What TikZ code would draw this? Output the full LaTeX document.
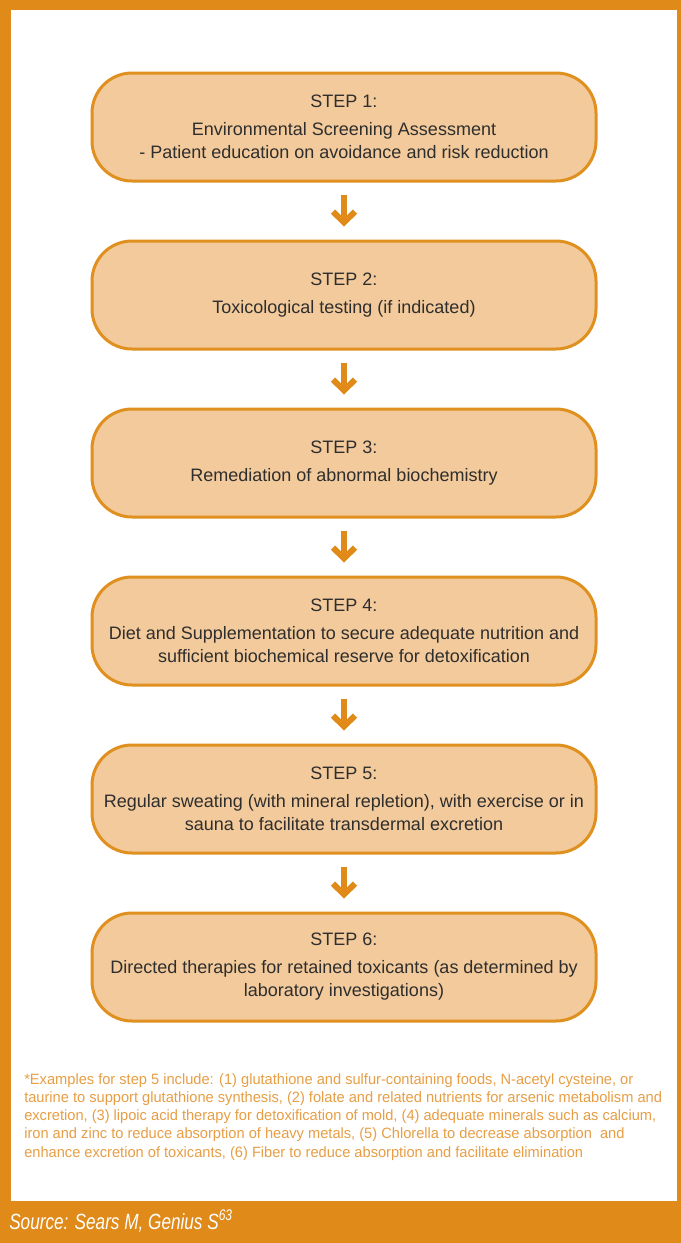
\documentclass[tikz,border=0pt]{standalone}
\usepackage{fontspec}
\setmainfont{Liberation Sans}
\newfontfamily\notefont[FakeStretch=0.98]{Liberation Sans}
\newfontfamily\srcfont[FakeStretch=0.78]{Liberation Sans}
\usetikzlibrary{arrows.meta,calc}
\definecolor{frame}{HTML}{E08A1A}
\definecolor{boxfill}{HTML}{F3CA9B}
\definecolor{boxline}{HTML}{E0901F}
\definecolor{notecol}{HTML}{E89E45}
\definecolor{txt}{HTML}{2E2E2E}
\begin{document}
\begin{tikzpicture}[x=0.75pt,y=-0.75pt,
  stepbox/.style={draw=boxline, line width=2.25pt, fill=boxfill,
    rounded corners=30pt, minimum width=378pt, minimum height=81pt,
    align=center, text=txt, inner sep=0pt,
    execute at begin node={\rule{0pt}{12.3pt}},
    font=\fontsize{13.5}{17.25}\selectfont},
  flow/.style={draw=frame, line width=4.5pt,
    -{Straight Barb[length=8pt,width=16.5pt]},
    shorten <=9.4pt, shorten >=9.75pt}]
\useasboundingbox (0,0) rectangle (681,1243);
\fill[frame] (0,0) rectangle (681,1243);
\fill[white] (11,10) rectangle (677,1201);

\node[stepbox] (s1) at (344,127) {STEP 1:\\[3.75pt]Environmental Screening Assessment\\- Patient education on avoidance and risk reduction};
\node[stepbox] (s2) at (344,295) {STEP 2:\\[3.75pt]Toxicological testing (if indicated)};
\node[stepbox] (s3) at (344,463) {STEP 3:\\[3.75pt]Remediation of abnormal biochemistry};
\node[stepbox] (s4) at (344,631) {STEP 4:\\[3.75pt]Diet and Supplementation to secure adequate nutrition and\\sufficient biochemical reserve for detoxification};
\node[stepbox] (s5) at (344,799) {STEP 5:\\[3.75pt]Regular sweating (with mineral repletion), with exercise or in\\sauna to facilitate transdermal excretion};
\node[stepbox] (s6) at (344,967) {STEP 6:\\[3.75pt]Directed therapies for retained toxicants (as determined by\\laboratory investigations)};

\draw[flow] (s1) -- (s2);
\draw[flow] (s2) -- (s3);
\draw[flow] (s3) -- (s4);
\draw[flow] (s4) -- (s5);
\draw[flow] (s5) -- (s6);

\node[anchor=north west, inner sep=0pt, align=left, text=notecol,
  font=\notefont\fontsize{11.2}{13.7}\selectfont] (note) at (24,1073)
  {*Examples for step 5 include: (1) glutathione and sulfur-containing foods, N-acetyl cysteine, or\\
   taurine to support glutathione synthesis, (2) folate and related nutrients for arsenic metabolism and\\
   excretion, (3) lipoic acid therapy for detoxification of mold, (4) adequate minerals such as calcium,\\
   iron and zinc to reduce absorption of heavy metals, (5) Chlorella to decrease absorption\ \ and\\
   enhance excretion of toxicants, (6) Fiber to reduce absorption and facilitate elimination};

\node[anchor=base west, inner sep=0pt, text=white,
  font=\srcfont\itshape\fontsize{16.5}{19}\selectfont] (src) at (9,1229)
  {Source: Sears M, Genius S\textsuperscript{63}};
\end{tikzpicture}
\end{document}
